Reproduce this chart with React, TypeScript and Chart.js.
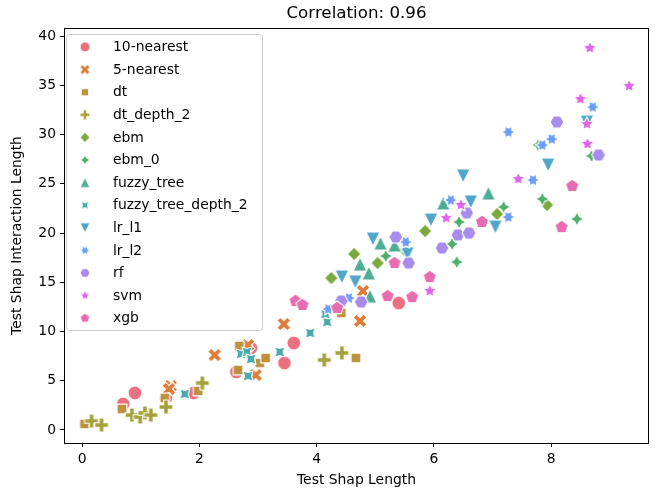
import React, { useEffect, useRef } from 'react';
import { Chart, registerables } from 'chart.js';

Chart.register(...registerables);

const categories = ['10-nearest', '5-nearest', 'dt', 'dt_depth_2', 'ebm', 'ebm_0', 'fuzzy_tree', 'fuzzy_tree_depth_2', 'lr_l1', 'lr_l2', 'rf', 'svm', 'xgb'];
const colors = ['#ea7180', '#de7d3a', '#bb923e', '#a3a23a', '#7ca93e', '#4fae6a', '#4fad94', '#4aa9ad', '#50a6c8', '#6a9ef2', '#a78ceb', '#e065ec', '#e76cb0'];

const nearest10 = [[0.70, 2.64], [0.90, 3.76], [1.43, 3.25], [1.90, 3.76], [2.63, 5.89], [2.88, 8.32], [3.45, 6.80], [3.61, 8.83], [5.40, 12.89]];
const nearest5 = [[1.51, 4.47], [1.48, 4.16], [2.26, 7.61], [2.71, 8.53], [2.83, 8.63], [2.96, 5.58], [3.44, 10.76], [4.74, 11.07], [4.79, 14.11]];
const dt = [[0.04, 0.61], [0.68, 2.13], [1.41, 3.25], [1.98, 3.96], [2.66, 6.09], [2.68, 8.53], [3.03, 6.80], [3.13, 7.31], [4.42, 11.88], [4.67, 7.31]];
const dtDepth2 = [[0.16, 0.91], [0.33, 0.51], [0.85, 1.52], [0.99, 1.32], [1.07, 1.73], [1.17, 1.52], [1.43, 2.34], [2.05, 4.77], [4.13, 7.11], [4.43, 7.82]];
const ebm = [[4.25, 15.43], [4.64, 17.87], [5.04, 16.95], [5.50, 18.27], [5.85, 20.2], [7.08, 21.93], [7.93, 22.84]];
const ebm0 = [[5.18, 17.66], [6.31, 18.88], [6.39, 17.06], [6.43, 21.12], [7.19, 22.64], [7.85, 23.45], [8.44, 21.42], [7.78, 28.93], [8.69, 27.82]];
const fuzzyTree = [[4.74, 16.85], [4.89, 15.94], [5.09, 18.98], [6.16, 23.05], [6.93, 24.06], [4.91, 13.6], [5.33, 18.78]];
const fuzzyTreeDepth2 = [[1.75, 3.65], [2.71, 7.72], [2.81, 7.92], [2.88, 7.21], [2.83, 5.48], [3.37, 7.92], [3.89, 9.85], [4.18, 10.96], [4.15, 11.78]];
const lrL1 = [[4.43, 15.53], [4.66, 15.03], [4.96, 19.39], [5.55, 17.87], [5.95, 21.32], [6.50, 25.79], [6.63, 23.15], [7.05, 20.6], [7.95, 26.90], [8.61, 31.27]];
const lrL2 = [[4.20, 12.28], [4.55, 13.4], [5.52, 19.09], [6.29, 23.35], [7.27, 21.62], [7.69, 25.38], [7.27, 30.25], [7.85, 28.93], [8.01, 29.54], [8.71, 32.79]];
const rf = [[4.42, 13.1], [4.76, 13.0], [5.35, 19.59], [5.57, 16.95], [6.14, 18.48], [6.41, 19.80], [6.60, 20.0], [6.56, 22.03], [8.10, 31.27], [8.81, 27.92]];
const svm = [[5.93, 14.11], [6.21, 21.52], [6.46, 22.84], [7.44, 25.48], [8.50, 33.60], [8.61, 31.07], [8.62, 29.04], [8.66, 38.78], [9.33, 34.92]];
const xgb = [[3.64, 13.1], [3.76, 12.69], [4.35, 12.39], [5.21, 13.6], [5.33, 16.95], [5.63, 13.5], [5.93, 15.53], [6.82, 21.12], [8.18, 20.6], [8.36, 24.77]];

const seriesValues = [nearest10, nearest5, dt, dtDepth2, ebm, ebm0, fuzzyTree, fuzzyTreeDepth2, lrL1, lrL2, rf, svm, xgb];

const xTicks = [0, 2, 4, 6, 8];
const yTicks = [0, 5, 10, 15, 20, 25, 30, 35, 40];
const titleText = 'Correlation: 0.96';
const xLabel = 'Test Shap Length';
const yLabel = 'Test Shap Interaction Length';

const FONT = '"DejaVu Sans", sans-serif';

function starPts(n: number, inner: number, rotDeg: number): number[][] {
  const pts: number[][] = [];
  for (let k = 0; k < 2 * n; k++) {
    const a = ((90 + rotDeg + (k * 180) / n) * Math.PI) / 180;
    const r = k % 2 === 0 ? 1 : inner;
    pts.push([r * Math.cos(a), r * Math.sin(a)]);
  }
  return pts;
}
function polyPts(n: number, rotDeg: number): number[][] {
  const pts: number[][] = [];
  for (let k = 0; k < n; k++) {
    const a = ((90 + rotDeg + (k * 360) / n) * Math.PI) / 180;
    pts.push([Math.cos(a), Math.sin(a)]);
  }
  return pts;
}
const xShape = [[-1, -2], [0, -1], [1, -2], [2, -1], [1, 0], [2, 1], [1, 2], [0, 1], [-1, 2], [-2, 1], [-1, 0], [-2, -1]].map(([a, b]) => [a / 2, b / 2]);
const plusShape = [[-1, -3], [1, -3], [1, -1], [3, -1], [3, 1], [1, 1], [1, 3], [-1, 3], [-1, 1], [-3, 1], [-3, -1], [-1, -1]].map(([a, b]) => [a / 3, b / 3]);

const shapes: (number[][] | null)[] = [
  null,
  xShape,
  polyPts(4, 45),
  plusShape,
  polyPts(4, 0),
  starPts(4, 0.5, 0),
  [[0, 1], [-1, -1], [1, -1]],
  starPts(4, 0.5, 45),
  [[0, -1], [-1, 1], [1, 1]],
  starPts(6, 0.55, 30),
  polyPts(6, 30),
  starPts(5, 0.5, 0),
  polyPts(5, 0),
];

function makeMarker(idx: number, color: string, R: number, lw: number): HTMLCanvasElement {
  const size = Math.ceil(2 * R + 4);
  const c = document.createElement('canvas');
  c.width = size;
  c.height = size;
  const ctx = c.getContext('2d')!;
  const cx = size / 2;
  const cy = size / 2;
  ctx.beginPath();
  const pts = shapes[idx];
  if (!pts) {
    ctx.arc(cx, cy, R, 0, Math.PI * 2);
  } else {
    pts.forEach(([px, py], i) => {
      const X = cx + px * R;
      const Y = cy - py * R;
      if (i === 0) ctx.moveTo(X, Y);
      else ctx.lineTo(X, Y);
    });
    ctx.closePath();
  }
  ctx.fillStyle = color;
  ctx.fill();
  ctx.lineWidth = lw;
  ctx.strokeStyle = '#ffffff';
  ctx.lineJoin = 'miter';
  ctx.stroke();
  return c;
}

const framePlugin = {
  id: 'frameAndLegend',
  afterDatasetsDraw(chart: any) {
    const { ctx, chartArea } = chart;
    ctx.save();
    ctx.strokeStyle = '#000';
    ctx.lineWidth = 1;
    ctx.strokeRect(Math.round(chartArea.left) + 0.5, Math.round(chartArea.top) + 0.5, Math.round(chartArea.right - chartArea.left) - 1, Math.round(chartArea.bottom - chartArea.top));
    const bx = 66.5, by = 34.5, bw = 196, bh = 296, r = 3;
    ctx.beginPath();
    ctx.moveTo(bx + r, by);
    ctx.lineTo(bx + bw - r, by);
    ctx.arcTo(bx + bw, by, bx + bw, by + r, r);
    ctx.lineTo(bx + bw, by + bh - r);
    ctx.arcTo(bx + bw, by + bh, bx + bw - r, by + bh, r);
    ctx.lineTo(bx + r, by + bh);
    ctx.arcTo(bx, by + bh, bx, by + bh - r, r);
    ctx.lineTo(bx, by + r);
    ctx.arcTo(bx, by, bx + r, by, r);
    ctx.closePath();
    ctx.fillStyle = 'rgba(255,255,255,0.8)';
    ctx.fill();
    ctx.strokeStyle = '#cccccc';
    ctx.stroke();
    ctx.font = `13.9px ${FONT}`;
    ctx.fillStyle = '#000';
    ctx.textBaseline = 'middle';
    ctx.textAlign = 'left';
    categories.forEach((name, i) => {
      const y = 47 + i * 22.6;
      const m = makeMarker(i, colors[i], 4.9, 0.8);
      ctx.drawImage(m, 85 - m.width / 2, y - m.height / 2);
      ctx.fillText(name, 113, y + 0.5);
    });
    ctx.restore();
  },
};

export default function App() {
  const ref = useRef<HTMLCanvasElement>(null);
  useEffect(() => {
    if (!ref.current) return;
    const datasets = categories.map((name, i) => ({
      label: name,
      data: seriesValues[i].map(([x, y]) => ({ x, y })),
      pointStyle: makeMarker(i, colors[i], 6.95, 1.1),
      pointRadius: 7,
      backgroundColor: colors[i],
      borderColor: '#ffffff',
      borderWidth: 0,
      order: -i,
    }));
    const chart = new Chart(ref.current, {
      type: 'scatter',
      data: { datasets },
      plugins: [framePlugin],
      options: {
        responsive: false,
        animation: false,
        layout: { padding: { left: 0, right: 1, top: 0, bottom: 0 } },
        plugins: {
          legend: { display: false },
          tooltip: { enabled: false },
          title: {
            display: true,
            text: titleText,
            fullSize: false,
            color: '#000',
            font: { family: FONT, size: 16.7, weight: 'normal' },
            padding: { top: 4, bottom: 4 },
          },
        },
        scales: {
          x: {
            type: 'linear',
            min: -0.31,
            max: 9.67,
            afterFit: (s: any) => { s.height = 49; },
            afterBuildTicks: (s: any) => { s.ticks = xTicks.map((v) => ({ value: v })); },
            grid: { display: true, drawOnChartArea: false, drawTicks: true, tickLength: 4, color: '#000', lineWidth: 1 },
            border: { display: false },
            ticks: { color: '#000', font: { family: FONT, size: 13.9 }, padding: 4, maxRotation: 0, callback: (v: any) => String(v) },
            title: { display: true, text: xLabel, color: '#000', font: { family: FONT, size: 13.9 }, padding: { top: 0, bottom: 3.6 } },
          },
          y: {
            type: 'linear',
            min: -1.32,
            max: 40.81,
            afterFit: (s: any) => { s.width = 64; },
            afterBuildTicks: (s: any) => { s.ticks = yTicks.map((v) => ({ value: v })); },
            grid: { display: true, drawOnChartArea: false, drawTicks: true, tickLength: 4, color: '#000', lineWidth: 1 },
            border: { display: false },
            ticks: { color: '#000', font: { family: FONT, size: 13.9 }, padding: 4, callback: (v: any) => String(v) },
            title: { display: true, text: yLabel, color: '#000', font: { family: FONT, size: 13.9 }, padding: { top: 8.6, bottom: 0 } },
          },
        },
      },
    });
    return () => chart.destroy();
  }, []);
  return (
    <div style={{ position: 'fixed', left: 0, top: 0, width: 656, height: 492, background: '#fff' }}>
      <canvas ref={ref} width={656} height={492} style={{ display: 'block' }} />
    </div>
  );
}
